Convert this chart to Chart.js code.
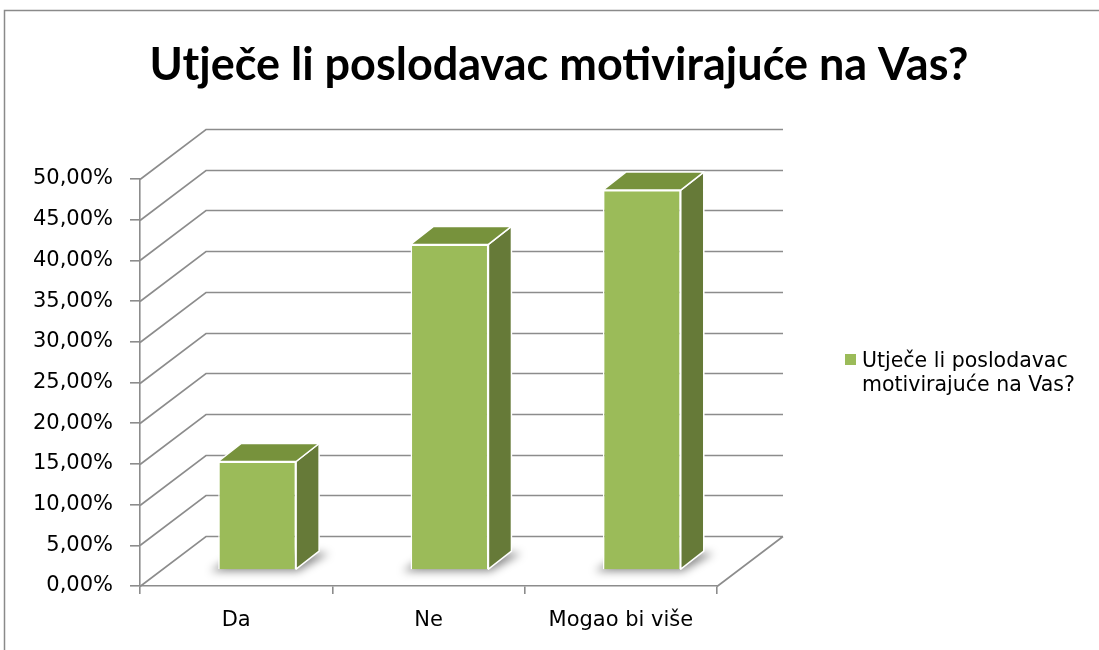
<!DOCTYPE html>
<html>
<head>
<meta charset="utf-8">
<script src="https://cdn.jsdelivr.net/npm/chart.js@4"></script>
<style>
  html, body { margin: 0; padding: 0; background: #ffffff; }
  #wrap { position: relative; width: 1099px; height: 650px; }
</style>
</head>
<body>
<div id="wrap"><canvas id="c"></canvas></div>
<script>
// ---- data ----
const CATEGORIES = ['Da', 'Ne', 'Mogao bi više'];
const VALUES = [13.33, 40.00, 46.67];
const SERIES_LABEL = 'Utječe li poslodavac motivirajuće na Vas?';
const LEGEND_LINES = ['Utječe li poslodavac', 'motivirajuće na Vas?'];
const TITLE = 'Utječe li poslodavac motivirajuće na Vas?';
const Y_MIN = 0;
const Y_MAX = 50;
const Y_STEP = 5;

// ---- style ----
const FRONT = '#9BBB59';
const SIDE = '#667A38';
const TOP = '#77923C';
const GRID = '#8C8C8C';
const DX = 66, DY = 50;          // wall depth offset
const BX = 21, BY = 16;          // bar front face depth offset
const SX = 23, SY = 18;          // bar depth
const AXIS_FONT = { family: 'DejaVu Sans', size: 21 };

const threeD = {
  id: 'threeD',
  beforeDraw(chart) {
    const ctx = chart.ctx;
    ctx.save();
    ctx.fillStyle = '#ffffff';
    ctx.fillRect(0, 0, chart.width, chart.height);
    ctx.strokeStyle = '#8a8a8a';
    ctx.lineWidth = 1.5;
    ctx.beginPath();
    ctx.moveTo(4.5, chart.height);
    ctx.lineTo(4.5, 10.5);
    ctx.lineTo(chart.width, 10.5);
    ctx.stroke();
    ctx.restore();
  },
  beforeDatasetsDraw(chart) {
    const ctx = chart.ctx;
    const { left, right } = chart.chartArea;
    const ys = chart.scales.y;
    ctx.save();
    ctx.strokeStyle = GRID;
    ctx.lineWidth = 1.6;
    ctx.beginPath();
    ys.ticks.forEach(t => {
      const py = Math.round(ys.getPixelForValue(t.value)) + 0.5;
      ctx.moveTo(left, py);
      ctx.lineTo(left + DX, py - DY);
      ctx.lineTo(right + DX, py - DY);
      if (t.value === Y_MIN) {
        ctx.moveTo(right, py);
        ctx.lineTo(right + DX, py - DY);
      }
    });
    ctx.stroke();
    // soft shadows below bars
    const meta = chart.getDatasetMeta(0);
    ctx.filter = 'blur(4px)';
    ctx.fillStyle = 'rgba(0,0,0,0.45)';
    meta.data.forEach(el => {
      const p = el.getProps(['x', 'base', 'width'], true);
      const l = p.x - p.width / 2 + BX, r = p.x + p.width / 2 + BX, b = p.base - BY;
      ctx.beginPath();
      ctx.moveTo(l - 8, b + 2);
      ctx.lineTo(r + 2, b + 2);
      ctx.lineTo(r + SX + 10, b - SY + 2);
      ctx.lineTo(l + SX, b - SY);
      ctx.closePath();
      ctx.fill();
    });
    ctx.restore();
  },
  beforeDatasetDraw(chart) {
    chart.ctx.save();
    chart.ctx.translate(BX, -BY);
  },
  afterDatasetDraw(chart, args) {
    const ctx = chart.ctx;
    ctx.restore();
    ctx.save();
    ctx.strokeStyle = '#ffffff';
    ctx.lineWidth = 1.5;
    ctx.lineJoin = 'round';
    args.meta.data.forEach(el => {
      const p = el.getProps(['x', 'y', 'base', 'width'], true);
      const l = p.x - p.width / 2 + BX, r = p.x + p.width / 2 + BX;
      const t = p.y - BY, b = p.base - BY;
      // side
      ctx.beginPath();
      ctx.moveTo(r, t); ctx.lineTo(r + SX, t - SY); ctx.lineTo(r + SX, b - SY); ctx.lineTo(r, b);
      ctx.closePath();
      ctx.fillStyle = SIDE; ctx.fill(); ctx.stroke();
      // top
      ctx.beginPath();
      ctx.moveTo(l, t); ctx.lineTo(l + SX, t - SY); ctx.lineTo(r + SX, t - SY); ctx.lineTo(r, t);
      ctx.closePath();
      ctx.fillStyle = TOP; ctx.fill(); ctx.stroke();
    });
    ctx.restore();
  },
  afterDraw(chart) {
    const ctx = chart.ctx;
    ctx.save();
    // title
    ctx.fillStyle = '#000000';
    ctx.font = 'bold 45px Lato';
    ctx.textAlign = 'center';
    ctx.textBaseline = 'alphabetic';
    ctx.fillText(TITLE, 559, 80);
    // legend
    ctx.fillStyle = FRONT;
    ctx.fillRect(845, 354, 11, 11);
    ctx.fillStyle = '#000000';
    ctx.font = '20.5px "DejaVu Sans"';
    ctx.textAlign = 'left';
    LEGEND_LINES.forEach((ln, i) => ctx.fillText(ln, 862, 367 + i * 24));
    ctx.restore();
  }
};

new Chart(document.getElementById('c'), {
  type: 'bar',
  data: {
    labels: CATEGORIES,
    datasets: [{
      label: SERIES_LABEL,
      data: VALUES,
      backgroundColor: FRONT,
      borderColor: '#ffffff',
      borderWidth: 1.5,
      categoryPercentage: 1,
      barPercentage: 0.405,
      clip: false
    }]
  },
  options: {
    responsive: true,
    maintainAspectRatio: false,
    animation: false,
    events: [],
    layout: { padding: { left: 0, top: 179, right: 382, bottom: 0 } },
    plugins: {
      legend: { display: false },
      title: { display: false },
      tooltip: { enabled: false }
    },
    scales: {
      x: {
        offset: true,
        afterFit(s) { s.height = 64; },
        grid: { offset: true, drawOnChartArea: false, drawTicks: true, tickLength: 8, color: GRID, lineWidth: 1.6 },
        border: { display: true, color: GRID, width: 1.6 },
        ticks: { color: '#000000', font: AXIS_FONT, padding: 14, maxRotation: 0 }
      },
      y: {
        min: Y_MIN,
        max: Y_MAX,
        afterFit(s) { s.width = 140; },
        grid: { drawOnChartArea: false, drawTicks: true, tickLength: 10, color: GRID, lineWidth: 1.6 },
        border: { display: true, color: GRID, width: 1.6 },
        ticks: {
          stepSize: Y_STEP,
          color: '#000000',
          font: AXIS_FONT,
          padding: 17,
          callback: v => v.toFixed(2).replace('.', ',') + '%'
        }
      }
    }
  },
  plugins: [threeD]
});
</script>
</body>
</html>
